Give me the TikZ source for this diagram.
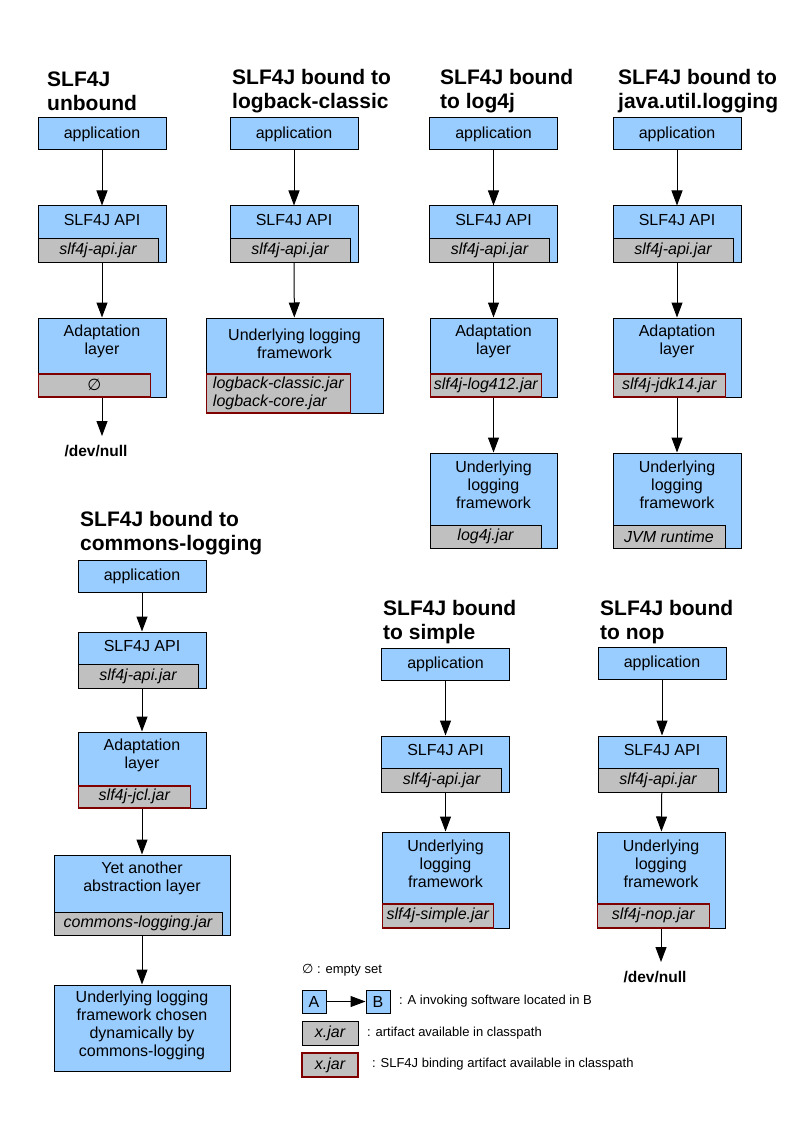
\documentclass[tikz,border=0pt]{standalone}
\usepackage{fontspec}
\setmainfont{Liberation Sans}
\newfontfamily\symfont{DejaVu Sans}
\usetikzlibrary{arrows.meta, positioning, calc}
\definecolor{boxblue}{HTML}{99CCFF}
\definecolor{jargray}{HTML}{C0C0C0}
\definecolor{bindred}{HTML}{800000}

\begin{document}
\begin{tikzpicture}[x=1pt, y=-1pt,
    blk/.style={draw, fill=boxblue, line width=1pt, inner sep=0pt, font=\fontsize{16}{18}\selectfont},
    txt/.style={font=\fontsize{16}{18}\selectfont, align=center, inner sep=0pt, anchor=north},
    jar/.style={draw, fill=jargray, line width=1pt, inner sep=0pt, minimum height=24pt, anchor=south west, font=\fontsize{16}{17.5}\selectfont\itshape},
    bind/.style={jar, draw=bindred, line width=1.6pt},
    ttl/.style={font=\fontsize{21}{24}\selectfont\bfseries, align=left, inner sep=0pt, anchor=west},
    arr/.style={line width=1pt, -{Triangle[length=15pt, width=11pt]}},
    nul/.style={font=\fontsize{15.5}{18}\selectfont\bfseries, inner sep=0pt},
    leg/.style={font=\fontsize{13}{15}\selectfont, inner sep=0pt, anchor=west}]

    \fill[white] (0,0) rectangle (794,1123);
    \useasboundingbox (0,0) rectangle (794,1123);

    % titles
    \node[ttl] (ub-t) at (47,91) {SLF4J\\unbound};
    \node[ttl] (lb-t) at (232,91) {SLF4J bound to\\logback-classic};
    \node[ttl] (l4-t) at (440,91) {SLF4J bound\\to log4j};
    \node[ttl] (jul-t) at (618,91) {SLF4J bound to\\java.util.logging};
    \node[ttl] (jcl-t) at (80,533) {SLF4J bound to\\commons-logging};
    \node[ttl] (sim-t) at (383,622) {SLF4J bound\\to simple};
    \node[ttl] (nop-t) at (600,622) {SLF4J bound\\to nop};

    % application and SLF4J API, the same in every column
    \foreach \n/\x/\ya/\yb in {ub/102/134/234, lb/294/134/234, l4/493.5/134/234, jul/677/134/234, jcl/142/576/660, sim/445.5/664/764, nop/662/663/764}{
        \node[blk, minimum width=128pt, minimum height=32pt] (\n-app) at (\x,\ya) {application};
        \node[blk, minimum width=128pt, minimum height=56pt] (\n-api) at (\x,\yb) {};
        \node[txt] (\n-apit) at ([yshift=-9pt]\n-api.north) {SLF4J API};
        \node[jar, minimum width=120pt] (\n-apij) at (\n-api.south west) {slf4j-api.jar};
        \draw[arr] (\n-app) -- (\n-api);
    }

    % unbound
    \node[blk, minimum width=128pt, minimum height=79pt] (ub-ad) at (102,357.5) {};
    \node[txt] (ub-adt) at ([yshift=-7pt]ub-ad.north) {Adaptation\\layer};
    \node[bind, minimum width=112pt, minimum height=23pt] (ub-adj) at (ub-ad.south west) {{\symfont ∅}};
    \node[nul] (ub-null) at (96,451) {/dev/null};
    \draw[arr] (ub-api) -- (ub-ad);
    \draw[arr] (ub-ad) -- ([yshift=9pt]ub-ad.south |- ub-null.north);

    % logback-classic
    \node[blk, minimum width=177pt, minimum height=95pt] (lb-uf) at (294.5,365.5) {};
    \node[txt] (lb-uft) at ([yshift=-11pt]lb-uf.north) {Underlying logging\\framework};
    \node[bind, minimum width=144pt, minimum height=39pt, align=left] (lb-ufj) at (lb-uf.south west) {logback-classic.jar\\logback-core.jar};
    \draw[arr] (lb-api) -- (lb-uf);

    % log4j
    \node[blk, minimum width=127pt, minimum height=79pt] (l4-ad) at (493.5,357.5) {};
    \node[txt] (l4-adt) at ([yshift=-7pt]l4-ad.north) {Adaptation\\layer};
    \node[bind, minimum width=111pt, minimum height=23pt] (l4-adj) at (l4-ad.south west) {slf4j-log412.jar};
    \node[blk, minimum width=127pt, minimum height=95pt] (l4-uf) at (493.5,500.5) {};
    \node[txt] (l4-uft) at ([yshift=-8pt]l4-uf.north) {Underlying\\logging\\framework};
    \node[jar, minimum width=111pt, minimum height=23pt] (l4-ufj) at (l4-uf.south west) {log4j.jar};
    \draw[arr] (l4-api) -- (l4-ad);
    \draw[arr] (l4-ad) -- (l4-uf);

    % java.util.logging
    \node[blk, minimum width=128pt, minimum height=79pt] (jul-ad) at (677,357.5) {};
    \node[txt] (jul-adt) at ([yshift=-7pt]jul-ad.north) {Adaptation\\layer};
    \node[bind, minimum width=112pt, minimum height=23pt] (jul-adj) at (jul-ad.south west) {slf4j-jdk14.jar};
    \node[blk, minimum width=128pt, minimum height=95pt] (jul-uf) at (677,500.5) {};
    \node[txt] (jul-uft) at ([yshift=-8pt]jul-uf.north) {Underlying\\logging\\framework};
    \node[jar, minimum width=112pt, minimum height=23pt] (jul-ufj) at (jul-uf.south west) {JVM runtime};
    \draw[arr] (jul-api) -- (jul-ad);
    \draw[arr] (jul-ad) -- (jul-uf);

    % commons-logging
    \node[blk, minimum width=128pt, minimum height=76pt] (jcl-ad) at (142,770) {};
    \node[txt] (jcl-adt) at ([yshift=-7pt]jcl-ad.north) {Adaptation\\layer};
    \node[bind, minimum width=112pt, minimum height=22pt] (jcl-adj) at (jcl-ad.south west) {slf4j-jcl.jar};
    \node[blk, minimum width=176pt, minimum height=80pt] (jcl-ya) at (142,895) {};
    \node[txt] (jcl-yat) at ([yshift=-7pt]jcl-ya.north) {Yet another\\abstraction layer};
    \node[jar, minimum width=168pt, minimum height=23pt] (jcl-yaj) at (jcl-ya.south west) {commons-logging.jar};
    \node[blk, minimum width=176pt, minimum height=86pt] (jcl-uf) at (142,1028) {};
    \node[txt] (jcl-uft) at ([yshift=-6.5pt]jcl-uf.north) {Underlying logging\\framework chosen\\dynamically by\\commons-logging};
    \draw[arr] (jcl-api) -- (jcl-ad);
    \draw[arr] (jcl-ad) -- (jcl-ya);
    \draw[arr] (jcl-ya) -- (jcl-uf);

    % simple
    \node[blk, minimum width=127pt, minimum height=96pt] (sim-uf) at (445.5,880) {};
    \node[txt] (sim-uft) at ([yshift=-8pt]sim-uf.north) {Underlying\\logging\\framework};
    \node[bind, minimum width=111pt] (sim-ufj) at (sim-uf.south west) {slf4j-simple.jar};
    \draw[arr] (sim-api) -- (sim-uf);

    % nop
    \node[blk, minimum width=128pt, minimum height=96pt] (nop-uf) at (661,880) {};
    \node[txt] (nop-uft) at ([yshift=-8pt]nop-uf.north) {Underlying\\logging\\framework};
    \node[bind, minimum width=112pt] (nop-ufj) at (nop-uf.south west) {slf4j-nop.jar};
    \node[nul] (nop-null) at (655,977) {/dev/null};
    \draw[arr] (nop-api) -- (nop-uf);
    \draw[arr] (nop-uf) -- ([yshift=9pt]nop-uf.south |- nop-null.north);

    % legend
    \node[leg] (lg-e) at (302,970) {{\symfont ∅} : empty set};
    \node[blk, minimum width=24pt, minimum height=23pt] (lg-a) at (314,1001.5) {A};
    \node[blk, minimum width=24pt, minimum height=23pt] (lg-b) at (378,1001.5) {B};
    \draw[arr] (lg-a) -- (lg-b);
    \node[leg] (lg-abt) at (399,1001) {: A invoking software located in B};
    \node[jar, anchor=center, minimum width=56pt] (lg-j) at (330,1033) {x.jar};
    \node[leg] (lg-jt) at (367,1033) {: artifact available in classpath};
    \node[bind, anchor=center, minimum width=56pt] (lg-r) at (330,1065) {x.jar};
    \node[leg] (lg-rt) at (372,1064) {: SLF4J binding artifact available in classpath};

\end{tikzpicture}
\end{document}
